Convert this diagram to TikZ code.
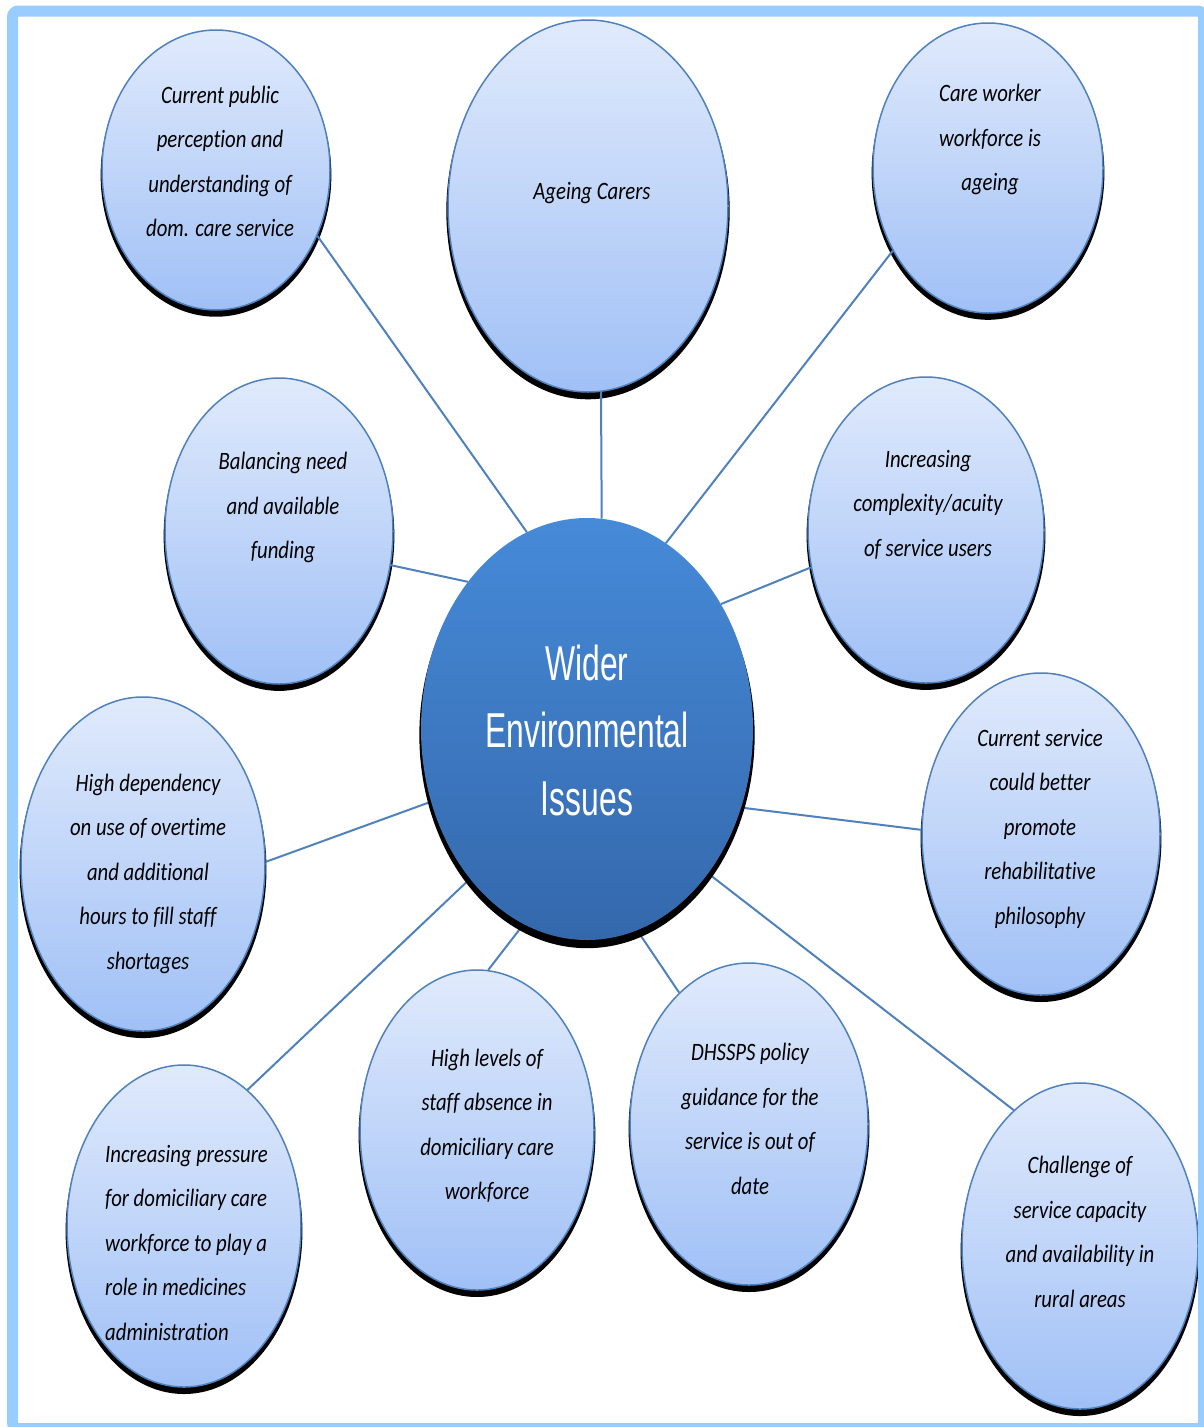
\documentclass[tikz,border=0pt]{standalone}
\usepackage{fontspec}
\newfontfamily\labfont[FakeStretch=0.83,Ligatures=NoCommon]{Carlito}
\newfontfamily\cenfont[FakeStretch=0.65]{Liberation Sans}
\usetikzlibrary{shapes.geometric,shadows}
\pgfdeclarelayer{bglayer}
\pgfdeclarelayer{satlayer}
\pgfdeclarelayer{linelayer}
\pgfsetlayers{bglayer,satlayer,linelayer,main}
\definecolor{frameblue}{RGB}{153,204,255}
\definecolor{linkblue}{RGB}{79,129,189}
\definecolor{sattop}{RGB}{224,234,252}
\definecolor{satbot}{RGB}{160,192,246}
\definecolor{centop}{RGB}{70,138,216}
\definecolor{cenbot}{RGB}{52,104,172}
\tikzset{
  satellite/.style={ellipse, draw=linkblue, line width=1.5pt, top color=sattop, bottom color=satbot,
    inner sep=0pt, drop shadow={shadow xshift=0pt, shadow yshift=-5pt, shadow scale=1.012, fill=black, opacity=1}},
  centre/.style={ellipse, draw=none, top color=centop, bottom color=cenbot, inner sep=0pt,
    drop shadow={shadow xshift=0pt, shadow yshift=-6pt, shadow scale=1.01, fill=black, opacity=1}},
  lab/.style={font=\labfont\itshape\fontsize{25}{44.5}\selectfont, align=center, inner sep=0pt, text=black},
  cenlab/.style={font=\cenfont\fontsize{49}{67.5}\selectfont, align=center, inner sep=0pt, text=white},
  link/.style={draw=linkblue, line width=2pt}
}
\begin{document}
\begin{tikzpicture}[x=1pt,y=-1pt]
\useasboundingbox (0,0) rectangle (1203,1427);
\begin{pgfonlayer}{bglayer}
\fill[white] (0,0) rectangle (1203,1427);
\end{pgfonlayer}

\begin{pgfonlayer}{satlayer}
\node[satellite, minimum width=228pt, minimum height=280pt] (e1) at (216,170) {};
\node[satellite, minimum width=280pt, minimum height=372pt] (e2) at (588,206) {};
\node[satellite, minimum width=230pt, minimum height=290pt] (e3) at (988,168) {};
\node[satellite, minimum width=228pt, minimum height=306pt] (e4) at (279,531) {};
\node[satellite, minimum width=236pt, minimum height=306pt] (e5) at (926,530) {};
\node[satellite, minimum width=244pt, minimum height=334pt] (e7) at (143,864) {};
\node[satellite, minimum width=238pt, minimum height=322pt] (e8) at (1041,834) {};
\node[satellite, minimum width=234pt, minimum height=322pt] (e9) at (184,1226) {};
\node[satellite, minimum width=234pt, minimum height=320pt] (e10) at (477,1130) {};
\node[satellite, minimum width=238pt, minimum height=322pt] (e11) at (749,1124) {};
\node[satellite, minimum width=236pt, minimum height=326pt] (e12) at (1080,1246) {};
\end{pgfonlayer}

\node[centre, minimum width=332pt, minimum height=422pt] (c) at (587,729) {};

\begin{pgfonlayer}{linelayer}
\draw[link] (e1.-33) -- (c.107);
\draw[link] (e2.-86) -- (c.86);
\draw[link] (e3.-139.5) -- (c.67);
\draw[link] (e4.-17.5) -- (c.129.4);
\draw[link] (e5.-162) -- (c.43.5);
\draw[link] (e7.1.4) -- (c.-155.6);
\draw[link] (e8.178.6) -- (c.-27.8);
\draw[link] (e9.65.4) -- (c.-128.9);
\draw[link] (e10.86.5) -- (c.-108.6);
\draw[link] (e11.118.1) -- (c.-76.1);
\draw[link] (e12.116.4) -- (c.-50.7);
\end{pgfonlayer}

\node[cenlab] (tc) at (587,730) {Wider\\Environmental\\Issues};
\node[lab] (t1) at (220,161.5) {Current public\\perception and\\understanding of\\dom. care service};
\node[lab] (t2) at (592,193) {Ageing Carers};
\node[lab] (t3) at (990,139.5) {Care worker\\workforce is\\ageing};
\node[lab] (t4) at (283,507.5) {Balancing need\\and available\\funding};
\node[lab] (t5) at (928,504.5) {Increasing\\complexity/acuity\\of service users};
\node[lab] (t7) at (148,873.5) {High dependency\\on use of overtime\\and additional\\hours to fill staff\\shortages};
\node[lab] (t8) at (1040,828.5) {Current service\\could better\\promote\\rehabilitative\\philosophy};
\node[lab, align=left, anchor=west] (t9) at (105,1242.5) {Increasing pressure\\for domiciliary care\\workforce to play a\\role in medicines\\administration};
\node[lab] (t10) at (487,1126) {High levels of\\staff absence in\\domiciliary care\\workforce};
\node[lab] (t11) at (750,1119) {DHSSPS policy\\guidance for the\\service is out of\\date};
\node[lab] (t12) at (1080,1232) {Challenge of\\service capacity\\and availability in\\rural areas};

\draw[frameblue, line width=11pt, rounded corners=6pt] (12.5,11) rectangle (1203.5,1428.5);
\end{tikzpicture}
\end{document}
